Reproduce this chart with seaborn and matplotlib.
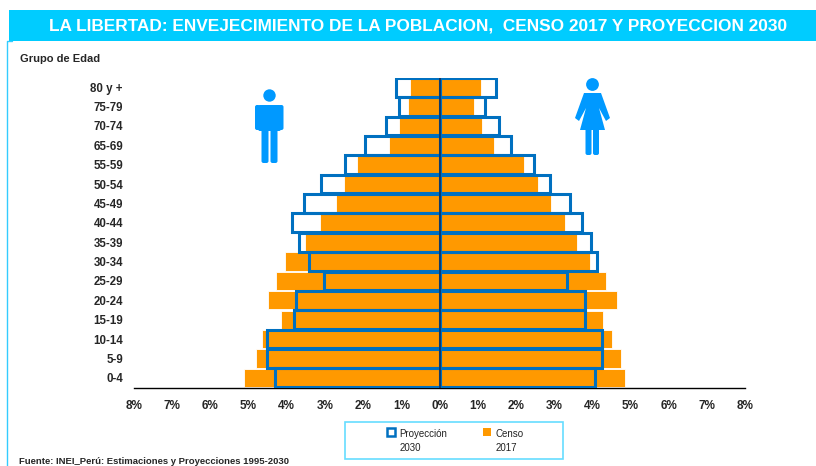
import matplotlib
matplotlib.use('Agg')
import pandas as pd
import matplotlib.pyplot as plt
import seaborn as sns
from matplotlib.patches import Rectangle, Circle, Polygon, FancyBboxPatch
from matplotlib.legend_handler import HandlerPatch

# Datos
grupos = ['80 y +', '75-79', '70-74', '65-69', '55-59', '50-54', '45-49', '40-44',
          '35-39', '30-34', '25-29', '20-24', '15-19', '10-14', '5-9', '0-4']
hombres_2017 = [0.76, 0.83, 1.05, 1.33, 2.15, 2.51, 2.70, 3.14,
                3.52, 4.05, 4.28, 4.48, 4.16, 4.66, 4.81, 5.12]
mujeres_2017 = [1.08, 0.90, 1.12, 1.44, 2.20, 2.58, 2.91, 3.28,
                3.60, 3.94, 4.35, 4.64, 4.27, 4.53, 4.76, 4.87]
hombres_2030 = [1.13, 1.05, 1.40, 1.95, 2.48, 3.11, 3.56, 3.86,
                3.68, 3.43, 3.03, 3.77, 3.80, 4.52, 4.52, 4.32]
mujeres_2030 = [1.47, 1.18, 1.56, 1.88, 2.47, 2.90, 3.42, 3.73,
                3.96, 4.12, 3.34, 3.82, 3.82, 4.26, 4.26, 4.08]
ticks_x = [-8, -7, -6, -5, -4, -3, -2, -1, 0, 1, 2, 3, 4, 5, 6, 7, 8]

NARANJA = '#FF9900'
AZUL = '#0070C0'
CIAN = '#00CCFF'
ICONO = '#0099FF'

sns.set_style('white')
plt.rcParams['font.family'] = ['Liberation Sans']

df = pd.DataFrame({'grupo': grupos,
                   'h17': [-v for v in hombres_2017], 'm17': mujeres_2017,
                   'h30': [-v for v in hombres_2030], 'm30': mujeres_2030})

fig = plt.figure(figsize=(8.16, 4.66), dpi=100)
W, H = 816, 466
ax = fig.add_axes([134 / W, 1 - 387.5 / H, (745 - 134) / W, (387.5 - 77.5) / H])
ax.patch.set_alpha(0)

# Censo 2017
for col in ['h17', 'm17']:
    sns.barplot(df, x=col, y='grupo', color=NARANJA, saturation=1, width=0.94,
                edgecolor='white', linewidth=0.6, ax=ax, zorder=2)
# Proyeccion 2030
for col in ['h30', 'm30']:
    sns.barplot(df, x=col, y='grupo', color=AZUL, saturation=1, width=0.97,
                fill=False, linewidth=2.2, ax=ax, zorder=3)

ax.axvline(0, color='#10305A', lw=1.2, zorder=4)
ax.set_xlim(-8, 8)
ax.set_ylim(15.5, -0.5)
ax.set_xticks(ticks_x)
ax.set_xticklabels([f'{abs(t)}%' for t in ticks_x], fontsize=8.5, fontweight='bold')
ax.tick_params(axis='x', length=0, pad=9)
ax.tick_params(axis='y', length=0, pad=8)
for lab in ax.get_yticklabels():
    lab.set_fontsize(8.3)
    lab.set_fontweight('bold')
ax.set_xlabel('')
ax.set_ylabel('')
sns.despine(ax=ax, left=True)
ax.spines['bottom'].set_color('black')
ax.spines['bottom'].set_linewidth(1.0)

# Capa de adornos en pixeles
deco = fig.add_axes([0, 0, 1, 1], zorder=-1)
deco.set_xlim(0, W)
deco.set_ylim(H, 0)
deco.axis('off')
deco.add_patch(Rectangle((9, 10), W - 9, 31, color=CIAN, lw=0))
deco.plot([6.5, 6.5, 12], [H, 40.5, 40.5], color='#33CCFF', lw=1)
deco.add_patch(Rectangle((344.5, 422), 218, 37, fill=False, edgecolor='#66DDFF', lw=1.2))

# Hombre
deco.add_patch(Circle((269.5, 95.5), 6.2, color=ICONO, lw=0))
deco.add_patch(FancyBboxPatch((258, 105), 23, 26, boxstyle='round,pad=0,rounding_size=2', color=ICONO, lw=0))
deco.add_patch(FancyBboxPatch((255, 105), 5, 25, boxstyle='round,pad=0,rounding_size=2', color=ICONO, lw=0))
deco.add_patch(FancyBboxPatch((278.5, 105), 5, 25, boxstyle='round,pad=0,rounding_size=2', color=ICONO, lw=0))
deco.add_patch(FancyBboxPatch((261.5, 128), 7, 35, boxstyle='round,pad=0,rounding_size=2', color=ICONO, lw=0))
deco.add_patch(FancyBboxPatch((270.5, 128), 7, 35, boxstyle='round,pad=0,rounding_size=2', color=ICONO, lw=0))

# Mujer
deco.add_patch(Circle((592.5, 84.5), 6.4, color=ICONO, lw=0))
deco.add_patch(Polygon([[584, 93], [601, 93], [610, 118], [606, 121], [599, 108], [605, 130],
                        [580, 130], [586, 108], [579, 121], [575, 118]], color=ICONO, lw=0))
deco.add_patch(FancyBboxPatch((585.5, 128), 6, 27, boxstyle='round,pad=0,rounding_size=2', color=ICONO, lw=0))
deco.add_patch(FancyBboxPatch((593, 128), 6, 27, boxstyle='round,pad=0,rounding_size=2', color=ICONO, lw=0))

# Textos
fig.text(418 / W, 1 - 26 / H, 'LA LIBERTAD: ENVEJECIMIENTO DE LA POBLACION,  CENSO 2017 Y PROYECCION 2030',
         color='white', fontsize=12.4, fontweight='bold', ha='center', va='center')
fig.text(20 / W, 1 - 59 / H, 'Grupo de Edad', fontsize=8, fontweight='bold', va='center')
fig.text(19 / W, 1 - 461 / H, 'Fuente: INEI_Perú: Estimaciones y Proyecciones 1995-2030',
         fontsize=6.8, fontweight='bold', va='center')


# Leyenda
def parche_arriba(legend, orig_handle, xdescent, ydescent, width, height, fontsize):
    return Rectangle((-xdescent, -ydescent + 7), width, height)


h1 = Rectangle((0, 0), 1, 1, facecolor='white', edgecolor=AZUL, lw=1.8)
h2 = Rectangle((0, 0), 1, 1, facecolor=NARANJA, edgecolor='none')
leg = fig.legend([h1, h2], ['Proyección\n2030', 'Censo\n2017'], ncols=2, frameon=False,
                 loc='center left', bbox_to_anchor=(387 / W, 1 - 441 / H), borderpad=0, borderaxespad=0,
                 fontsize=7, handlelength=0.85, handleheight=0.85, handletextpad=0.4, columnspacing=3.7,
                 labelcolor='#222222',
                 handler_map={Rectangle: HandlerPatch(patch_func=parche_arriba)})
for t in leg.get_texts():
    t.set_linespacing(1.6)

fig.savefig('out.png', dpi=100)
